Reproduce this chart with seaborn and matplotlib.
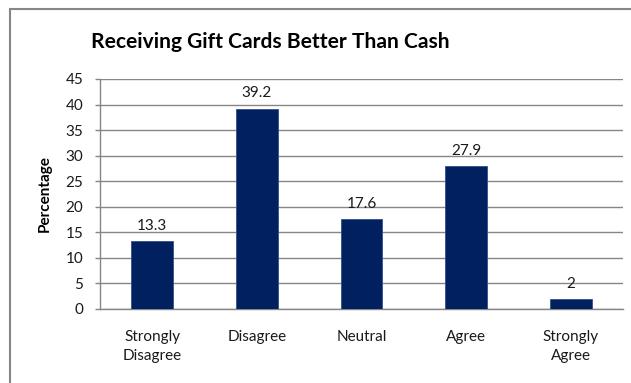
import matplotlib
matplotlib.use("Agg")
import matplotlib.pyplot as plt
from matplotlib.lines import Line2D
import seaborn as sns
import pandas as pd
import numpy as np

categories = ["Strongly\nDisagree", "Disagree", "Neutral", "Agree", "Strongly\nAgree"]
percentages = [13.3, 39.2, 17.6, 27.9, 2]
value_labels = ["13.3", "39.2", "17.6", "27.9", "2"]
y_ticks = [0, 5, 10, 15, 20, 25, 30, 35, 40, 45]

sns.set_theme(style="white")
plt.rcParams["font.family"] = ["Lato", "DejaVu Sans"]

bar_color = "#002060"
grid_color = "#868686"
text_color = "#1a1a1a"

df = pd.DataFrame({"Response": categories, "Percentage": percentages})

fig = plt.figure(figsize=(6.31, 3.83), dpi=100)
ax = fig.add_axes([100 / 631, 1 - 309 / 383, 523 / 631, 230 / 383])

sns.barplot(data=df, x="Response", y="Percentage", color=bar_color,
            width=0.4, edgecolor="#34508a", linewidth=0.6, saturation=1,
            ax=ax, zorder=3)

ax.set_xlim(-0.5, len(categories) - 0.5)
ax.set_ylim(0, 45)
ax.set_yticks(y_ticks)
ax.set_yticklabels([str(t) for t in y_ticks], fontsize=11, color=text_color)
ax.yaxis.grid(True, color=grid_color, linewidth=1.0, zorder=0)
ax.set_axisbelow(True)

# category labels centered, tick marks at category boundaries
ax.set_xticks(range(len(categories)))
ax.set_xticklabels(categories, fontsize=11, color=text_color, linespacing=1.45)
ax.tick_params(axis="x", which="major", length=0, pad=15)
ax.set_xticks(np.arange(-0.5, len(categories), 1.0), minor=True)
ax.tick_params(axis="x", which="minor", length=3.6, color=grid_color, width=1)
ax.tick_params(axis="y", which="major", length=3.6, color=grid_color, width=1,
               left=True, pad=8.5)

for side in ["top", "right"]:
    ax.spines[side].set_visible(False)
for side in ["left", "bottom"]:
    ax.spines[side].set_color(grid_color)
    ax.spines[side].set_linewidth(1.0)

ax.set_xlabel("")
ax.set_ylabel("Percentage", fontsize=11, fontweight="bold", color="black")
ax.yaxis.set_label_coords(-0.092, 0.5)

for i, (v, lab) in enumerate(zip(percentages, value_labels)):
    ax.text(i, v + 1.6, lab, ha="center", va="bottom", fontsize=11, color=text_color)

fig.text(270 / 631, 1 - 42 / 383, "Receiving Gift Cards Better Than Cash",
         ha="center", va="center", fontsize=15.1, fontweight="bold", color="black")

# chart frame (left and top edges)
fig.add_artist(Line2D([10 / 631, 10 / 631], [0, 1 - 9 / 383],
                      transform=fig.transFigure, color=grid_color, linewidth=1.5))
fig.add_artist(Line2D([10 / 631, 1], [1 - 9 / 383, 1 - 9 / 383],
                      transform=fig.transFigure, color=grid_color, linewidth=1.5))

fig.savefig("out.png", dpi=100)
